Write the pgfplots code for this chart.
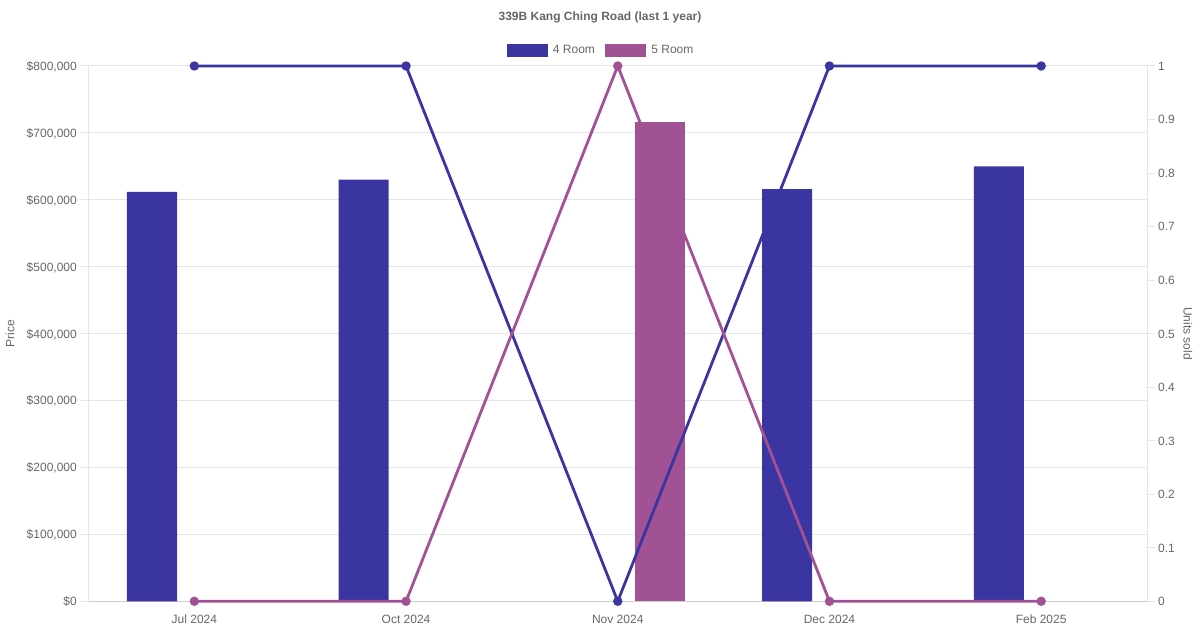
\documentclass[border=0pt]{standalone}
\usepackage{pgfplots}
\pgfplotsset{compat=1.18}
\usepackage{fontspec}
\setmainfont{Liberation Sans}
\definecolor{cfour}{HTML}{3A35A0}
\definecolor{cfive}{HTML}{A05294}
\definecolor{ctext}{HTML}{666666}
\definecolor{cgrid}{HTML}{E5E5E5}
\definecolor{caxis}{HTML}{CCCCCC}
\begin{document}
\fontsize{12bp}{14bp}\selectfont
\begin{tikzpicture}[x=1bp,y=1bp]
\useasboundingbox (0,0) rectangle (1200,630);
\node[font=\fontsize{12bp}{14bp}\selectfont\bfseries, text=ctext, inner sep=0pt] at (600,613) {339B Kang Ching Road (last 1 year)};
\begin{axis}[
  at={(88.5bp,28.7bp)}, anchor=south west,
  width=1058.5bp, height=535.3bp, scale only axis,
  xmin=-0.5, xmax=4.5, ymin=0, ymax=800000,
  scaled y ticks=false,
  axis x line*=bottom, axis y line*=left,
  x axis line style={draw=caxis, line width=1bp, -},
  y axis line style={draw=cgrid, line width=1bp, -},
  xtick={0,1,2,3,4},
  xticklabels={Jul 2024,Oct 2024,Nov 2024,Dec 2024,Feb 2025},
  x tick style={draw=none},
  xticklabel style={anchor=base, yshift=-14.7bp, inner sep=0pt, text=ctext, font=\fontsize{12bp}{14bp}\selectfont},
  ytick={0,100000,...,800000},
  yticklabels={\$0,\$100{,}000,\$200{,}000,\$300{,}000,\$400{,}000,\$500{,}000,\$600{,}000,\$700{,}000,\$800{,}000},
  yticklabel style={anchor=base east, xshift=-3.5bp, yshift=-4.4bp, inner sep=0pt, text=ctext, font=\fontsize{12bp}{14bp}\selectfont},
  tick align=outside, major tick length=8bp,
  y tick style={draw=cgrid, line width=1bp},
  ymajorgrids, grid style={draw=cgrid, line width=1bp},
  ylabel={Price},
  ylabel style={at={(axis description cs:0,0.5)}, anchor=center, rotate=0, yshift=78.5bp, inner sep=0pt, text=ctext, font=\fontsize{12bp}{14bp}\selectfont},
  legend columns=2,
  legend style={at={(axis description cs:0.48323,1)}, anchor=center, yshift=16bp, draw=none, fill=none, inner sep=0pt,
    column sep=6bp, nodes={inner sep=0pt, text=ctext, font=\fontsize{12bp}{14bp}\selectfont},
    /tikz/every even column/.append style={column sep=10bp}},
  legend cell align=left,
]
\addplot[ybar, bar width=0.2364, bar shift=-0.2, fill=cfour, draw=none, forget plot] coordinates {(0,612000) (1,630000) (3,616000) (4,650000)};
\addplot[ybar, bar width=0.2364, bar shift=0.2, fill=cfive, draw=none, forget plot] coordinates {(2,717000)};
\addlegendimage{legend image code/.code={\fill[cfour] (0bp,-6bp) rectangle (40bp,6bp);}}
\addlegendentry{4 Room}
\addlegendimage{legend image code/.code={\fill[cfive] (0bp,-6bp) rectangle (40bp,6bp);}}
\addlegendentry{5 Room}
\end{axis}
\begin{axis}[
  at={(88.5bp,28.7bp)}, anchor=south west,
  width=1058.5bp, height=535.3bp, scale only axis,
  xmin=-0.5, xmax=4.5, ymin=0, ymax=1,
  axis x line=none, axis y line*=right,
  y axis line style={draw=cgrid, line width=1bp, -},
  ytick={0,0.1,...,1.0},
  yticklabels={0,0.1,0.2,0.3,0.4,0.5,0.6,0.7,0.8,0.9,1},
  yticklabel style={anchor=base west, xshift=3bp, yshift=-4.4bp, inner sep=0pt, text=ctext, font=\fontsize{12bp}{14bp}\selectfont},
  tick align=outside, major tick length=8bp,
  y tick style={draw=cgrid, line width=1bp},
  ylabel={Units sold},
  ylabel style={at={(axis description cs:1,0.5)}, anchor=center, rotate=180, yshift=41bp, inner sep=0pt, text=ctext, font=\fontsize{12bp}{14bp}\selectfont},
  clip=false,
]
\addplot[color=cfour, line width=2.8bp, mark=*, mark size=3.2bp, mark options={fill=cfour, draw=none}] coordinates {(0,1) (1,1) (2,0) (3,1) (4,1)};
\addplot[color=cfive, line width=2.8bp, mark=*, mark size=3.2bp, mark options={fill=cfive, draw=none}] coordinates {(0,0) (1,0) (2,1) (3,0) (4,0)};
\end{axis}
\end{tikzpicture}
\end{document}
